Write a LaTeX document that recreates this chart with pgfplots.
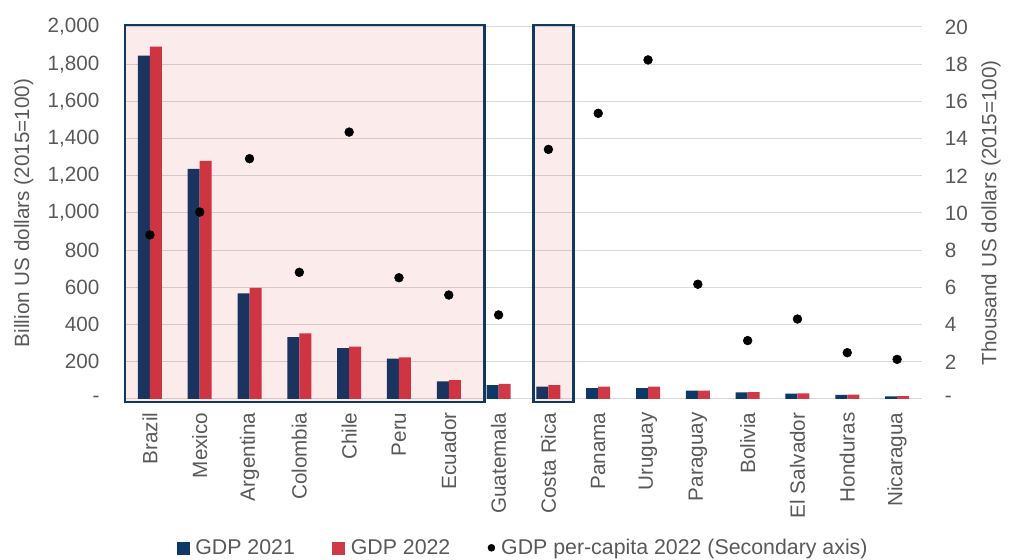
\documentclass[border=0pt]{standalone}
\usepackage{fontspec}
\setmainfont{Liberation Sans}
\usepackage{pgfplots}
\pgfplotsset{compat=1.18}
\definecolor{navy}{RGB}{13,56,104}
\definecolor{gred}{RGB}{207,57,72}
\definecolor{boxblue}{RGB}{16,56,96}
\definecolor{txt}{RGB}{89,89,89}
\definecolor{gridc}{RGB}{217,217,217}
\definecolor{tint}{RGB}{200,0,0}
\newcommand{\cf}{\fontsize{15.5}{18}\selectfont}
\newcommand{\lf}{\fontsize{16}{18}\selectfont}
\begin{document}
\begin{tikzpicture}
\useasboundingbox (-93.75pt,-120.75pt) rectangle (678pt,299.25pt);
\begin{axis}[
  at={(0,0)}, anchor=south west,
  scale only axis, width=597.75pt, height=279pt,
  xmin=-0.5, xmax=15.5, ymin=0, ymax=2000,
  ybar=0pt, bar width=9pt,
  axis line style={draw=none},
  major tick length=0pt,
  xtick={0,...,15},
  xticklabels={Brazil,Mexico,Argentina,Colombia,Chile,Peru,Ecuador,Guatemala,Costa Rica,Panama,Uruguay,Paraguay,Bolivia,El Salvador,Honduras,Nicaragua},
  xticklabel style={font=\cf, text=txt, rotate=90, anchor=east, inner sep=0pt, xshift=-10pt},
  ytick={0,200,...,2000},
  yticklabels={{-\hspace{10pt}},200,400,600,800,{1,000},{1,200},{1,400},{1,600},{1,800},{2,000}},
  yticklabel style={font=\cf, text=txt, anchor=east, inner sep=0pt, xshift=-19pt},
  ymajorgrids, grid style={gridc, line width=0.75pt},
  ylabel={Billion US dollars (2015=100)},
  every axis y label/.style={font=\cf, text=txt, at={(axis description cs:-0.127,0.5)}, rotate=90, anchor=center},
  clip=false,
]
\addplot[fill=navy, draw=none] coordinates {
(0,1846) (1,1237) (2,568) (3,332) (4,274) (5,217) (6,95) (7,74)
(8,66) (9,59) (10,59) (11,45) (12,36) (13,29) (14,22) (15,14)};
\addplot[fill=gred, draw=none] coordinates {
(0,1895) (1,1280) (2,597) (3,353) (4,281) (5,224) (6,102) (7,81)
(8,74) (9,66) (10,66) (11,45) (12,37) (13,30) (14,23) (15,15)};
\fill[tint, fill opacity=0.08] (axis cs:-0.5,-16) rectangle (axis cs:6.72,2010);
\draw[boxblue, line width=1.9pt] (axis cs:-0.5,-16) rectangle (axis cs:6.72,2010);
\fill[tint, fill opacity=0.08] (axis cs:7.7,-16) rectangle (axis cs:8.5,2010);
\draw[boxblue, line width=1.9pt] (axis cs:7.7,-16) rectangle (axis cs:8.5,2010);
\end{axis}
\begin{axis}[
  at={(0,0)}, anchor=south west,
  scale only axis, width=597.75pt, height=279pt,
  xmin=-0.5, xmax=15.5, ymin=0, ymax=20,
  hide x axis,
  axis y line*=right,
  axis line style={draw=none},
  major tick length=0pt,
  ytick={0,2,...,20},
  yticklabels={-,2,4,6,8,10,12,14,16,18,20},
  yticklabel style={font=\cf, text=txt, anchor=west, inner sep=0pt, xshift=17pt},
  ylabel={Thousand US dollars (2015=100)},
  every axis y label/.style={font=\cf, text=txt, at={(axis description cs:1.0866,0.5)}, rotate=90, anchor=center},
  legend style={at={(0.5,-0.40)}, anchor=center, draw=none, fill=none, font=\lf, text=txt,
    legend columns=3,
    /tikz/every odd column/.append style={column sep=2.5pt},
    /tikz/every even column/.append style={column sep=26pt}},
  clip=false,
]
\addlegendimage{legend image code/.code={\fill[navy] (0pt,-4.5pt) rectangle (9pt,4.5pt);}}
\addlegendentry{GDP 2021}
\addlegendimage{legend image code/.code={\fill[gred] (0pt,-4.5pt) rectangle (9pt,4.5pt);}}
\addlegendentry{GDP 2022}
\addplot[only marks, mark=*, mark size=3.3pt, black,
  legend image code/.code={\fill[black] (6pt,0pt) circle (2.6pt);}] coordinates {
(0,8.82) (1,10.05) (2,12.92) (3,6.81) (4,14.35) (5,6.52) (6,5.59) (7,4.52)
(8,13.42) (9,15.36) (10,18.23) (11,6.17) (12,3.14) (13,4.30) (14,2.49) (15,2.13)};
\addlegendentry{GDP per-capita 2022 (Secondary axis)}
\end{axis}
\end{tikzpicture}
\end{document}
